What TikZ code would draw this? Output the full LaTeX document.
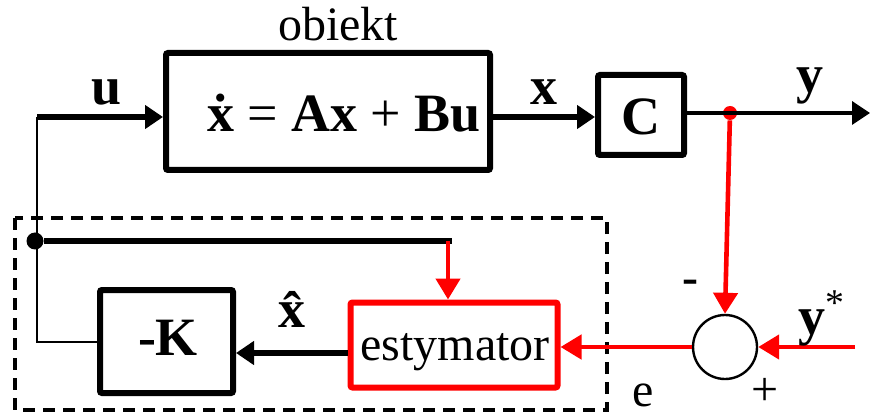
\documentclass[tikz,border=0pt]{standalone}
\usepackage{fontspec}
\setmainfont{Liberation Serif}
\usetikzlibrary{arrows.meta}

\begin{document}
\begin{tikzpicture}[x=0.5pt, y=-0.5pt,
		blk/.style={draw, line width=3pt, rounded corners=1pt, inner sep=0pt},
		sig/.style={line width=3pt, -{Triangle[length=9pt, width=11.5pt]}},
		redsig/.style={red, line width=2.3pt, -{Triangle[length=10.5pt, width=12pt]}},
		bold/.style={font=\fontsize{27}{30}\selectfont\bfseries, inner sep=0pt},
		txt/.style={font=\fontsize{24}{27}\selectfont, inner sep=0pt}]
		\useasboundingbox (0, 0) rectangle (870, 416);
		% blocks
		\node [blk, minimum width=162pt, minimum height=58.5pt] (obj) at (328, 111.5) {};
		\node [blk, minimum width=43pt, minimum height=40pt] (C) at (641, 115) {};
		\node [blk, minimum width=66.5pt, minimum height=51.5pt] (K) at (166.5, 341.5) {};
		\node [blk, red, minimum width=103.5pt, minimum height=42.5pt] (est) at (454, 345) {};
		\node [draw, circle, line width=1.2pt, minimum size=32pt, inner sep=0pt] (sum) at (725, 347) {};
		\draw [dashed, dash pattern=on 6pt off 4pt, line width=1.6pt] (15, 218) rectangle (607, 410);
		% texts in blocks
		\node [txt, anchor=base] at (338, 41) {obiekt};
		\node [bold, anchor=base] at (344, 132) {\textbf{\.{x}} \mdseries=\textbf{ Ax} \mdseries+\textbf{ Bu}};
		\node [bold, anchor=base] at (641, 135) {C};
		\node [bold, anchor=base] at (168, 355) {-K};
		\node [txt, anchor=base] at (455, 360) {estymator};
		% signals
		\coordinate (uin) at (37, 117);
		\coordinate (yout) at (870, 113);
		\coordinate (tap) at (448, 241);
		\node [circle, fill, minimum size=8.5pt, inner sep=0pt] (jn) at (35, 241) {};
		\node [circle, fill=red, minimum size=7pt, inner sep=0pt] (ydot) at (730, 113) {};
		\draw [line width=1pt] (K.west) -| (uin);
		\draw [sig] (uin) -- (obj.west |- uin) node [bold, anchor=base, pos=0.55, yshift=6pt] {u};
		\draw [sig] (obj.east |- 0, 117) -- (C.west |- 0, 117) node [bold, anchor=base, midway, yshift=6pt] {x};
		\draw [line width=1.8pt, -{Triangle[length=9pt, width=11.5pt]}] (C.east |- yout) -- (yout);
		\node [bold, anchor=base] at (810, 93) {y};
		\draw [line width=2.8pt] (jn) -- ([xshift=2pt]tap);
		\draw [redsig] (tap) -- (tap |- est.north);
		\draw [sig] ([yshift=-4pt]est.west) -- ([yshift=-4pt]est.west -| K.east)
			node [bold, anchor=base, midway, yshift=13pt] {\^{x}};
		\draw [redsig] (ydot) -- (sum.north);
		\draw [redsig] (sum.west) -- (sum.west -| est.east);
		\coordinate (ystar) at (855, 347);
		\draw [redsig] (ystar) -- (sum.east);
		% signs
		\node [bold, anchor=base] at (822, 334) {y\textsuperscript{\mdseries*}};
		\node [txt] at (690, 287) {\bfseries -};
		\node [txt] at (765, 392) {+};
		\node [txt, anchor=base] at (643, 406) {e};
	\end{tikzpicture}
\end{document}
